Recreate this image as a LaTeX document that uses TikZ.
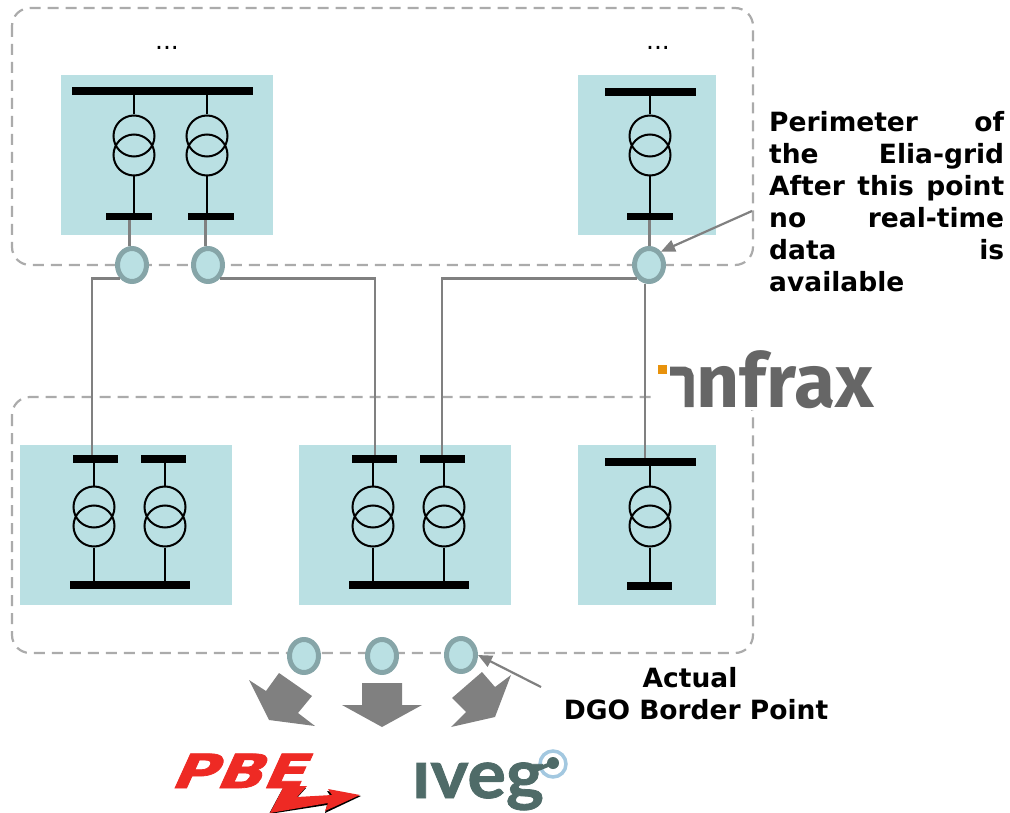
\documentclass[tikz,border=0pt]{standalone}
\usepackage{fontspec}
\setmainfont{DejaVu Sans}
\newfontfamily\infraxfont{Fira Sans}
\newfontfamily\ivegfont[FakeBold=1.2]{Lato}
\newfontfamily\pbefont[FakeBold=1.5,FakeSlant=0.35]{DejaVu Sans}
\usetikzlibrary{shapes.geometric,arrows.meta}
\definecolor{gridteal}{HTML}{BAE0E3}
\definecolor{ringgrey}{HTML}{86A5A8}
\definecolor{linegrey}{HTML}{808080}
\definecolor{dashgrey}{HTML}{ABABAB}
\definecolor{infraxgrey}{HTML}{666666}
\definecolor{infraxorange}{HTML}{E8920C}
\definecolor{pbered}{HTML}{EE2A24}
\definecolor{ivegslate}{HTML}{4F6B68}
\definecolor{ivegblue}{HTML}{A3C8E0}
\tikzset{
  perimeter/.style={draw=dashgrey,line width=2.2pt,dash pattern=on 11pt off 7pt,rounded corners=18pt},
  gridbox/.style={fill=gridteal},
  busbar/.style={fill=black,inner sep=0pt,minimum height=8pt},
  trafo/.style={circle,draw=black,line width=2pt,inner sep=0pt,minimum size=41pt},
  wire/.style={black,line width=2pt},
  feeder/.style={linegrey,line width=2.6pt},
  borderpt/.style={ellipse,draw=ringgrey,fill=gridteal,line width=5pt,inner sep=0pt,minimum width=29pt,minimum height=33pt},
  callout/.style={linegrey,line width=2.2pt,-{Triangle[length=14pt,width=12pt]}},
  bigarrow/.style={fill=linegrey},
  lbl/.style={font=\bfseries\fontsize{26.5}{32}\selectfont,inner sep=0pt}
}
\begin{document}
\begin{tikzpicture}[x=1pt,y=-1pt]
  \useasboundingbox (0,0) rectangle (1010,813);
  % dashed perimeters
  \draw[perimeter] (12,8) rectangle (753,265);
  \draw[perimeter] (12,397) rectangle (753,653);
  % logo covers the corner of the lower perimeter
  \fill[white] (656,345) rectangle (880,410);
  % substations
  \fill[gridbox] (61,75) rectangle (273,235);
  \fill[gridbox] (578,75) rectangle (716,235);
  \fill[gridbox] (20,445) rectangle (232,605);
  \fill[gridbox] (299,445) rectangle (511,605);
  \fill[gridbox] (578,445) rectangle (716,605);
  \draw (167,48)node[font=\fontsize{25}{30}\selectfont](dotsa){...};
  \draw (658,48)node[font=\fontsize{25}{30}\selectfont](dotsb){...};
  % bars
  \draw (162.5,91)node[busbar,minimum width=181pt](bta){};
  \draw (650,92)node[busbar,minimum width=91pt](btb){};
  \draw (129,216.5)node[busbar,minimum width=46pt,minimum height=7pt](bua){};
  \draw (210.5,216.5)node[busbar,minimum width=46pt,minimum height=7pt](bub){};
  \draw (649.5,216.5)node[busbar,minimum width=46pt,minimum height=7pt](buc){};
  \draw (95.5,459)node[busbar,minimum width=45pt](bva){};
  \draw (163.5,459)node[busbar,minimum width=45pt](bvb){};
  \draw (374.5,459)node[busbar,minimum width=45pt](bvc){};
  \draw (442.5,459)node[busbar,minimum width=45pt](bvd){};
  \draw (650,462)node[busbar,minimum width=91pt](bve){};
  \draw (130,585)node[busbar,minimum width=120pt](bwa){};
  \draw (409,585)node[busbar,minimum width=120pt](bwb){};
  \draw (649.5,586)node[busbar,minimum width=45pt](bwc){};
  % transformers
  \foreach \nm/\x/\y/\up/\dn in {ta/134/136/bta/bua,tb/207/136/bta/bub,tc/650/136/btb/buc,
      td/94/507/bva/bwa,te/165/507/bvb/bwa,tf/373/507/bvc/bwb,tg/444/507/bvd/bwb,th/650/507/bve/bwc}{
    \draw (\x,\y)node[trafo](\nm a){};
    \draw (\x,\y+19)node[trafo](\nm b){};
    \draw[wire] (\nm a.north) -- (\nm a.north |- \up.south);
    \draw[wire] (\nm b.south) -- (\nm b.south |- \dn.north);
  }
  % border points
  \draw (132,265)node[borderpt](bpa){};
  \draw (208,265)node[borderpt](bpb){};
  \draw (649,265)node[borderpt](bpc){};
  \draw (304,656)node[borderpt](bpd){};
  \draw (382,656)node[borderpt](bpe){};
  \draw (461,655)node[borderpt](bpf){};
  % feeders
  \coordinate (fa) at (92,455);
  \coordinate (fb) at (375,455);
  \coordinate (fc) at (442,455);
  \coordinate (fd) at (645,458);
  \coordinate (fe) at (129.5,220);
  \coordinate (ff) at (205.5,220);
  \draw[feeder] (fe) -- (fe |- bpa.north);
  \draw[feeder] (ff) -- (ff |- bpb.north);
  \draw[feeder] (buc.south) -- (buc.south |- bpc.north);
  \draw[feeder] (bpa.south west) -| (fa);
  \draw[feeder] (bpb.south east) -| (fb);
  \draw[feeder] (bpc.south west) -| (fc);
  \draw[feeder] (bpc.south -| fd) -- (fd);
  % arrows to the distribution companies
  \fill[bigarrow] (249,680) -- (266,691) -- (279,673) -- (312,696) -- (298,713) -- (315,726) -- (269,720) -- cycle;
  \fill[bigarrow] (362,683) -- (402,683) -- (402,705) -- (422,705) -- (382,727) -- (342,705) -- (362,705) -- cycle;
  \fill[bigarrow] (511,675) -- (495,717) -- (451,727) -- (466,712) -- (452,698) -- (482,672) -- (495,687) -- cycle;
  % labels
  \draw (769,111)node[lbl,anchor=north west,text width=235pt,align=justify](perim){Perimeter\hfill of\\the\hfill Elia-grid\\After\hfill this\hfill point\\no\hfill real-time\\data\hfill is\\available};
  \draw (696,694)node[lbl,align=center](dgo){Actual\hspace*{12pt}\\DGO Border Point};
  \coordinate (ca) at (752,211);
  \coordinate (cb) at (541,687);
  \draw[callout] (ca) -- (bpc.north east);
  \draw[callout] (cb) -- (bpf.east);
  % infrax logo
  \fill[infraxorange] (658,365) rectangle (667,374);
  \draw[infraxgrey,line width=9pt,rounded corners=5pt] (670,371) -- (689,371) -- (689,407);
  \draw (785,407)node[anchor=base,text=infraxgrey,font=\infraxfont\bfseries\fontsize{75}{75}\selectfont,inner sep=0pt](infrax){nfrax};
  % pbe logo
  \fill[black] (283,788) -- (306,788) -- (296,799) -- (331,797) -- (327,791) -- (361,796) -- (325,813) -- (327,805) -- (269,814) -- cycle;
  \fill[pbered] (284,786) -- (307,786) -- (297,797) -- (332,795) -- (328,789) -- (360,795) -- (325,811) -- (328,803) -- (270,813) -- cycle;
  \draw (236,788)node[anchor=base,text=pbered,font=\pbefont\bfseries\fontsize{47}{47}\selectfont,inner sep=0pt,transform shape,xscale=1.3](pbe){PBE};
  % iveg logo
  \draw[ivegblue,line width=3.5pt] (553,764)circle(13pt);
  \draw[ivegslate,line width=4pt] (533,771) -- (553,763);
  \fill[ivegslate] (553,763)circle(6pt);
  \draw (478,798)node[anchor=base,text=ivegslate,font=\ivegfont\bfseries\fontsize{68}{68}\selectfont,inner sep=0pt,transform shape,xscale=1.06](iveg){ıveg};
\end{tikzpicture}
\end{document}
